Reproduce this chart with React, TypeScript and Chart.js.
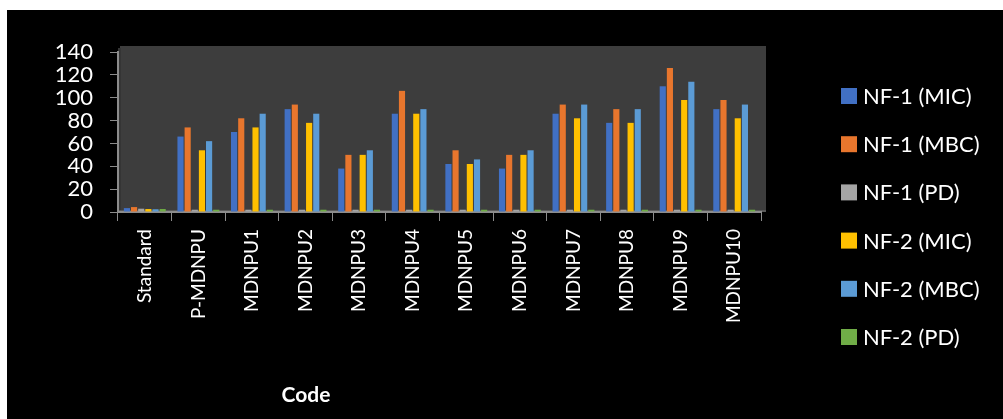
import { useEffect, useRef } from "react";
import { Chart, registerables } from "chart.js";

Chart.register(...registerables);

// Sample codes on the category axis
const categories = [
  "Standard",
  "P-MDNPU",
  "MDNPU1",
  "MDNPU2",
  "MDNPU3",
  "MDNPU4",
  "MDNPU5",
  "MDNPU6",
  "MDNPU7",
  "MDNPU8",
  "MDNPU9",
  "MDNPU10",
];

// Series values per code
const nf1Mic = [3.4, 66, 70, 90, 38, 86, 42, 38, 86, 78, 110, 90];
const nf1Mbc = [4.3, 74, 82, 94, 50, 106, 54, 50, 94, 90, 126, 98];
const nf1Pd = [2.9, 2, 2, 2, 2, 2, 2, 2, 2, 2, 2, 2];
const nf2Mic = [2.6, 54, 74, 78, 50, 86, 42, 50, 82, 78, 98, 82];
const nf2Mbc = [2.4, 62, 86, 86, 54, 90, 46, 54, 94, 90, 114, 94];
const nf2Pd = [2.6, 2, 2, 2, 2, 2, 2, 2, 2, 2, 2, 2];

const seriesLabels = [
  "NF-1 (MIC)",
  "NF-1 (MBC)",
  "NF-1 (PD)",
  "NF-2 (MIC)",
  "NF-2 (MBC)",
  "NF-2 (PD)",
];
const seriesColors = ["#4170C4", "#E8762D", "#A5A5A5", "#FFC000", "#5B9BD5", "#70AD47"];

const yMin = 0;
const yMax = 140;
const yStep = 20;
const xAxisTitle = "Code";

const FONT = "Lato, 'Open Sans', sans-serif";
const AXIS_GREY = "#8c8c8c";

// Black backdrop plus the dark grey back wall and floor strip behind the bars
const backdropPlugin = {
  id: "backdrop",
  beforeDraw(chart: Chart) {
    const { ctx, width, height, chartArea } = chart;
    ctx.save();
    ctx.fillStyle = "#000000";
    ctx.fillRect(0, 0, width, height);
    const { left, right, top, bottom } = chartArea;
    ctx.fillStyle = "#3d3d3d";
    ctx.fillRect(left + 2, top - 6, right - left + 3, bottom - top + 6);
    ctx.fillStyle = "#353535";
    ctx.fillRect(left, top - 4, 3, bottom - top + 4);
    ctx.fillStyle = "#5a5a5a";
    ctx.fillRect(left, bottom - 2, right - left + 5, 2);
    ctx.restore();
  },
};

// Legend column on the right and the category axis title
const legendPlugin = {
  id: "sideLegend",
  afterDraw(chart: Chart) {
    const { ctx, chartArea } = chart;
    ctx.save();
    const boxX = chartArea.right + 80;
    const firstY = chartArea.top + 44;
    const gap = 48.2;
    ctx.font = `22px ${FONT}`;
    ctx.textBaseline = "middle";
    ctx.textAlign = "left";
    chart.data.datasets.forEach((ds, i) => {
      const cy = firstY + i * gap;
      ctx.fillStyle = ds.backgroundColor as string;
      ctx.fillRect(boxX, cy - 8, 16, 16);
      ctx.fillStyle = "#ffffff";
      ctx.fillText(ds.label as string, boxX + 22, cy + 1);
    });
    ctx.font = `bold 21px ${FONT}`;
    ctx.textAlign = "center";
    ctx.fillStyle = "#ffffff";
    ctx.fillText(xAxisTitle, chartArea.left + 188, chartArea.bottom + 183);
    ctx.restore();
  },
};

export default function App() {
  const canvasRef = useRef<HTMLCanvasElement | null>(null);

  useEffect(() => {
    if (!canvasRef.current) return;
    const values = [nf1Mic, nf1Mbc, nf1Pd, nf2Mic, nf2Mbc, nf2Pd];
    const chart = new Chart(canvasRef.current, {
      type: "bar",
      data: {
        labels: categories,
        datasets: values.map((data, i) => ({
          label: seriesLabels[i],
          data,
          backgroundColor: seriesColors[i],
          borderWidth: 0,
          categoryPercentage: 0.8,
          barPercentage: 0.86,
        })),
      },
      options: {
        animation: false,
        responsive: false,
        maintainAspectRatio: false,
        layout: { padding: { left: 0, top: 42, right: 242, bottom: 0 } },
        plugins: {
          legend: { display: false },
          tooltip: { enabled: false },
        },
        scales: {
          x: {
            grid: {
              display: true,
              drawOnChartArea: false,
              drawTicks: true,
              tickLength: 9,
              color: AXIS_GREY,
              offset: true,
            },
            border: { display: true, color: AXIS_GREY, width: 2 },
            ticks: {
              color: "#ffffff",
              font: { family: FONT, size: 19 },
              minRotation: 90,
              maxRotation: 90,
              padding: 8,
              autoSkip: false,
            },
            afterFit(scale: any) {
              scale.height = 207;
            },
          },
          y: {
            min: yMin,
            max: yMax,
            grid: {
              display: true,
              drawOnChartArea: false,
              drawTicks: true,
              tickLength: 8,
              color: AXIS_GREY,
            },
            border: { display: true, color: AXIS_GREY, width: 2 },
            ticks: {
              stepSize: yStep,
              color: "#ffffff",
              font: { family: FONT, size: 22, lineHeight: 1 },
              padding: 17,
              autoSkip: false,
            },
            afterFit(scale: any) {
              scale.width = 111;
            },
          },
        },
      },
      plugins: [backdropPlugin, legendPlugin],
    });
    return () => chart.destroy();
  }, []);

  return (
    <div
      style={{
        position: "fixed",
        left: 7,
        top: 10,
        width: 996,
        height: 409,
        background: "#000000",
      }}
    >
      <canvas ref={canvasRef} width={996} height={409} style={{ display: "block" }} />
    </div>
  );
}
